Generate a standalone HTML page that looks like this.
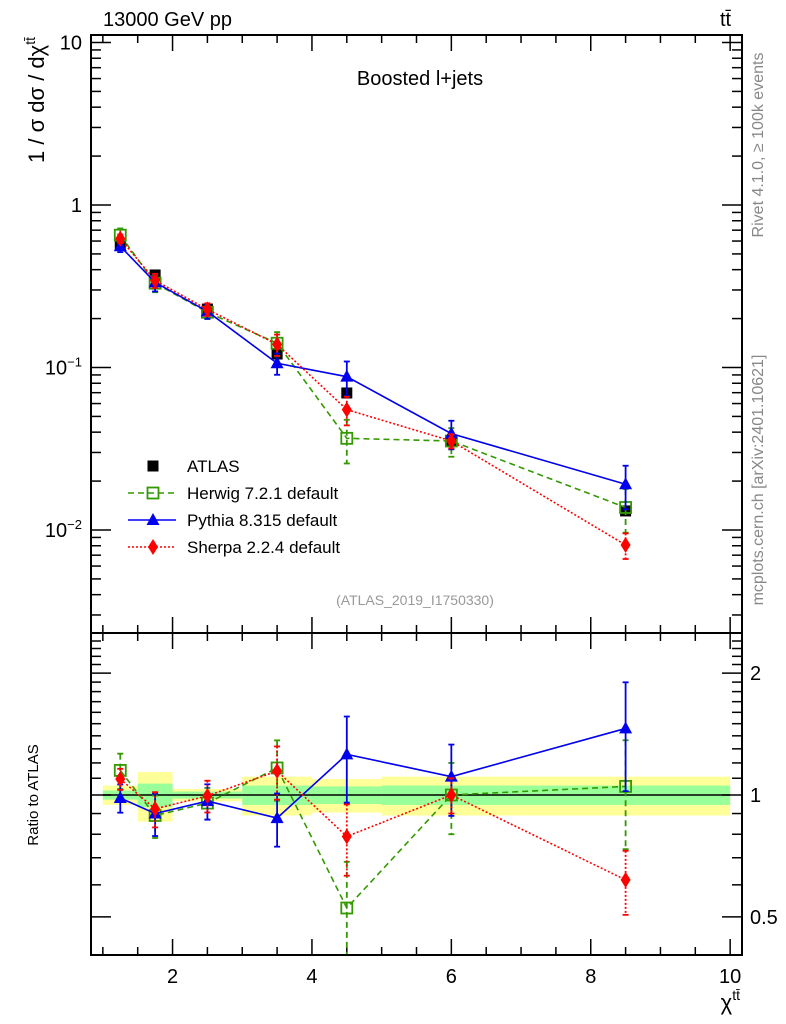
<!DOCTYPE html>
<html><head><meta charset="utf-8"><style>
body{margin:0;background:#fff;}
svg{display:block;font-family:"Liberation Sans",sans-serif;}
</style></head><body>
<svg id="c" width="786" height="1024" xmlns="http://www.w3.org/2000/svg">
<rect x="0" y="0" width="786" height="1024" fill="#fff"/>
<g id="bands"></g>
<g id="grid"></g>
<g id="marks"></g>
<rect x="91" y="35" width="651" height="598" fill="none" stroke="#000" stroke-width="2"/>
<rect x="91" y="633" width="651" height="322" fill="none" stroke="#000" stroke-width="2"/>
<text x="103" y="26" font-size="20">13000 GeV pp</text>
<text x="720" y="26" font-size="20">tt̄</text>
<text x="420" y="85" font-size="20" text-anchor="middle">Boosted l+jets</text>
<text x="415" y="605" font-size="14" fill="#999" text-anchor="middle">(ATLAS_2019_I1750330)</text>
<text transform="translate(44,100) rotate(-90)" font-size="22" text-anchor="middle">1 / σ dσ / dχ<tspan dy="-9" font-size="14">tt̄</tspan></text>
<text transform="translate(38,795) rotate(-90)" font-size="15" text-anchor="middle">Ratio to ATLAS</text>
<text x="740" y="1010" font-size="22" text-anchor="end">χ<tspan dy="-10" font-size="14">tt̄</tspan></text>
<text transform="translate(763,145) rotate(-90)" font-size="16" fill="#888" text-anchor="middle">Rivet 4.1.0, ≥ 100k events</text>
<text transform="translate(763,480) rotate(-90)" font-size="16" fill="#888" text-anchor="middle">mcplots.cern.ch [arXiv:2401.10621]</text>
<g id="legend"></g>
</svg>
<script>
const xCenters=[1.25,1.75,2.5,3.5,4.5,6,8.5];
const binLo=[1,1.5,2,3,4,5,7];
const binHi=[1.5,2,3,4,5,7,10];
const atlas=[0.567,0.371,0.229,0.121,0.0697,0.0353,0.0131];
const herwigRatio=[1.15,0.89,0.955,1.166,0.526,1.0,1.05];
const pythiaRatio=[0.983,0.90,0.966,0.877,1.26,1.11,1.46];
const sherpaRatio=[1.095,0.924,0.995,1.146,0.79,1.0,0.617];
const herwigErr=[0.1,0.12,0.09,0.17,0.3,0.2,0.3];
const pythiaErr=[0.08,0.12,0.1,0.15,0.24,0.2,0.3];
const sherpaErr=[0.06,0.1,0.09,0.15,0.2,0.1,0.18];
const statErr=[0.026,0.067,0.02,0.055,0.05,0.055,0.055];
const totErr=[0.055,0.14,0.035,0.11,0.095,0.11,0.11];
const xTicks=[2,4,6,8,10];
const mainTicks=[10,1,0.1,0.01];
const ratioTicks=[0.5,1,2];

const NS="http://www.w3.org/2000/svg";
const X0=91,X1=742,XMIN=0.83,XMAX=10.17;
const sx=v=>X0+(v-XMIN)/(XMAX-XMIN)*(X1-X0);
const sy=v=>205-Math.log10(v)*162.5;
const ry=v=>795-Math.log10(v)*405;
function mk(par,tag,at){const e=document.createElementNS(NS,tag);for(const k in at)e.setAttribute(k,at[k]);document.getElementById(par).appendChild(e);return e;}
function ln(par,x1,y1,x2,y2,col,w,dash){return mk(par,'line',{x1,y1,x2,y2,stroke:col||'#000','stroke-width':w||1.5,'stroke-dasharray':dash||'none'});}

binLo.forEach((lo,i)=>{
 let r=mk('bands','rect',{x:sx(lo),y:ry(1+totErr[i]),width:sx(binHi[i])-sx(lo),height:ry(1-totErr[i])-ry(1+totErr[i]),fill:'#ffff99'});
 
 
 let g=mk('bands','rect',{x:sx(lo),y:ry(1+statErr[i]),width:sx(binHi[i])-sx(lo),height:ry(1-statErr[i])-ry(1+statErr[i]),fill:'#99ff99'});
 
 
});
let one=ln('grid',sx(1),ry(1),sx(10),ry(1),'#000',1.5);



for(let v=1;v<=10.01;v+=0.5){
 const major=xTicks.includes(v);const L=major?16:8;
 [[35,1],[633,-1],[633,1],[955,-1]].forEach(([y,d])=>ln('grid',sx(v),y,sx(v),y+d*L,'#000',1.5));
}
xTicks.forEach(v=>{const t=mk('grid','text',{x:sx(v),y:983,'font-size':20,'text-anchor':'middle'});t.textContent=v;
 
 });
for(let e=-3;e<=1;e++)for(let m=1;m<=9;m++){const v=m*Math.pow(10,e);const y=sy(v);if(y<35||y>633)continue;
 const L=m==1?20:10;ln('grid',X0,y,X0+L,y);ln('grid',X1,y,X1-L,y);}
const mainLbl=['10','1','10<tspan dy="-8" font-size="13">−1</tspan>','10<tspan dy="-8" font-size="13">−2</tspan>'];
mainTicks.forEach((v,i)=>{const t=mk('grid','text',{x:82,y:sy(v)+7,'font-size':20,'text-anchor':'end'});t.innerHTML=mainLbl[i];
 
 });
for(let v=0.4;v<=2.45;v+=0.1){const y=ry(v);if(y<635||y>953)continue;const major=[0.5,1,2].some(t=>Math.abs(t-v)<1e-6);
 const L=major?20:10;ln('grid',X0,y,X0+L,y);ln('grid',X1,y,X1-L,y);}
ratioTicks.forEach(v=>{const t=mk('grid','text',{x:750,y:ry(v)+7,'font-size':20});t.textContent=v;
 
 });

function marker(par,type,x,y,col){
 if(type=='sq')return mk(par,'rect',{x:x-5.5,y:y-5.5,width:11,height:11,fill:'#fff','fill-opacity':0,stroke:col,'stroke-width':1.8});
 if(type=='tri')return mk(par,'polygon',{points:`${x},${y-7} ${x-6.5},${y+5} ${x+6.5},${y+5}`,fill:col});
 if(type=='dia')return mk(par,'polygon',{points:`${x},${y-8} ${x-5},${y} ${x},${y+8} ${x+5},${y}`,fill:col});
 return mk(par,'rect',{x:x-5.5,y:y-5.5,width:11,height:11,fill:col});
}
const series=[
 {name:'herwig',r:herwigRatio,e:herwigErr,col:'#339900',dash:'6,4',type:'sq'},
 {name:'pythia',r:pythiaRatio,e:pythiaErr,col:'#0000ee',dash:'none',type:'tri'},
 {name:'sherpa',r:sherpaRatio,e:sherpaErr,col:'#ff0000',dash:'2,2',type:'dia'}];
xCenters.forEach((x,i)=>{const m=marker('marks','fill',sx(x),sy(atlas[i]),'#000');
 
 });
series.forEach(s=>{
 const main=xCenters.map((x,i)=>[sx(x),sy(atlas[i]*s.r[i])]);
 const rat=xCenters.map((x,i)=>[sx(x),ry(s.r[i])]);
 [[main,1,'main'],[rat,0,'ratio']].forEach(([pts,isMain,tag])=>{
  const pl=mk('marks','polyline',{points:pts.map(p=>p.join(',')).join(' '),fill:'none',stroke:s.col,'stroke-width':1.6,'stroke-dasharray':s.dash});
  
  
  xCenters.forEach((x,i)=>{
   const c=isMain?atlas[i]*s.r[i]:s.r[i];const f=isMain?sy:ry;
   const top=Math.max(f(c*(1+s.e[i])),isMain?35:635),bot=Math.min(f(Math.max(c*(1-s.e[i]),1e-4)),isMain?633:955);
   const px=sx(x);
   ln('marks',px,top,px,bot,s.col,1.8,s.dash);
   ln('marks',px-3,top,px+3,top,s.col,1.8);ln('marks',px-3,bot,px+3,bot,s.col,1.8);
   const m=marker('marks',s.type,px,f(c),s.col);
   
   
  });
 });
});
const legNames=['ATLAS','Herwig 7.2.1 default','Pythia 8.315 default','Sherpa 2.2.4 default'];
const legTypes=['fill','sq','tri','dia'],legCols=['#000','#339900','#0000ee','#ff0000'],legDash=[null,'6,4','none','2,2'];
legNames.forEach((n,i)=>{
 const y=466+i*27;
 if(legDash[i])ln('legend',128,y,176,y,legCols[i],1.6,legDash[i]);
 marker('legend',legTypes[i],153,y,legCols[i]);
 const t=mk('legend','text',{x:187,y:y+6,'font-size':17});t.textContent=n;
 
 
});
</script>
</body></html>
